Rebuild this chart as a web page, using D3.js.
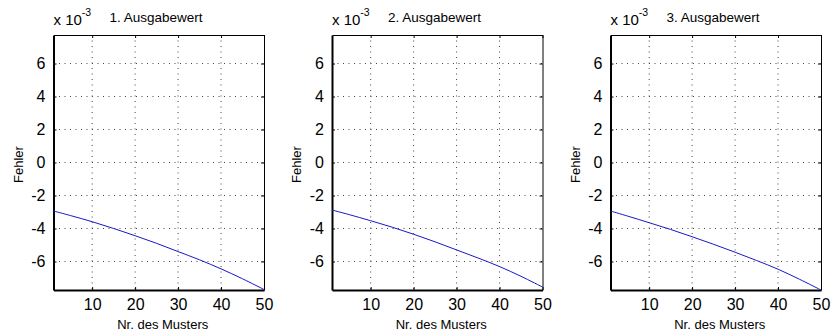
<!DOCTYPE html>
<html lang="de">
<head>
<meta charset="UTF-8">
<title>Fehler je Ausgabewert</title>
<script src="https://d3js.org/d3.v7.min.js"></script>
<style>
  body { margin: 0; background: #fff; }
  text { font-family: "Liberation Sans", Arial, sans-serif; fill: #000; }
</style>
</head>
<body>
<div id="chart"></div>
<script>
const muster = [1, 5, 10, 15, 20, 25, 30, 35, 40, 45, 50];
// Fehler der drei Ausgabewerte
const fehler1 = [-0.00294, -0.00322, -0.00359, -0.00400, -0.00444, -0.00490, -0.00540, -0.00590, -0.00645, -0.00705, -0.00770];
const fehler2 = [-0.00288, -0.00316, -0.00353, -0.00392, -0.00435, -0.00481, -0.00530, -0.00579, -0.00631, -0.00690, -0.00755];
const fehler3 = [-0.00294, -0.00325, -0.00365, -0.00406, -0.00450, -0.00496, -0.00544, -0.00594, -0.00647, -0.00708, -0.00773];
const titel = ["1. Ausgabewert", "2. Ausgabewert", "3. Ausgabewert"];
const xTicks = [10, 20, 30, 40, 50];
const yTicks = [-0.006, -0.004, -0.002, 0, 0.002, 0.004, 0.006];

const W = 833, H = 336;
const svg = d3.select("#chart").append("svg")
  .attr("width", W).attr("height", H);

const panelLeft = [53.5, 332, 610.5];
const axW = 210.5, yTop = 35, yBot = 290;

const reihen = [fehler1, fehler2, fehler3];

reihen.forEach((werte, k) => {
  const g = svg.append("g").attr("transform", `translate(${panelLeft[k]},0)`);

  const x = d3.scaleLinear().domain([1, 50]).range([0, axW]);
  const y = d3.scaleLinear().domain([-0.00773, 0.00773]).range([yBot, yTop]);

  // Gitterlinien (gepunktet)
  g.selectAll(".gx").data(xTicks.slice(0, -1)).join("line")
    .attr("x1", d => x(d)).attr("x2", d => x(d))
    .attr("y1", yTop).attr("y2", yBot)
    .attr("stroke", "#444").attr("stroke-width", 1)
    .attr("stroke-dasharray", "1,4.5");
  g.selectAll(".gy").data(yTicks).join("line")
    .attr("x1", 0).attr("x2", axW)
    .attr("y1", d => y(d)).attr("y2", d => y(d))
    .attr("stroke", "#444").attr("stroke-width", 1)
    .attr("stroke-dasharray", "1,4.5");

  // Achsen
  const xAx = g.append("g").attr("transform", `translate(0,${yBot})`)
    .call(d3.axisBottom(x).tickValues(xTicks).tickSizeInner(-3).tickSizeOuter(0).tickPadding(9));
  const yAx = g.append("g")
    .call(d3.axisLeft(y).tickValues(yTicks).tickSizeInner(-3).tickSizeOuter(0).tickPadding(8)
      .tickFormat(d => String(Math.round(d * 1000))));
  // Gegenseitige Achsen (oben/rechts)
  g.append("g").attr("transform", `translate(0,${yTop})`)
    .call(d3.axisTop(x).tickValues(xTicks).tickSizeInner(-3).tickSizeOuter(0).tickFormat(""));
  g.append("g").attr("transform", `translate(${axW},0)`)
    .call(d3.axisRight(y).tickValues(yTicks).tickSizeInner(-3).tickSizeOuter(0).tickFormat(""));

  svg.selectAll(".domain").attr("stroke", "#000");
  g.selectAll(".tick line").attr("stroke", "#000");
  g.selectAll(".tick text").style("font-size", "16px")
    .style("font-family", "'Liberation Sans', Arial, sans-serif");
  xAx.select(".domain").attr("stroke-width", 2);
  yAx.select(".domain").attr("stroke-width", 2);

  // Linie
  const pts = muster.map((m, i) => [m, werte[i]]);
  g.append("path").datum(pts)
    .attr("fill", "none").attr("stroke", "#1818c8").attr("stroke-width", 1)
    .attr("d", d3.line().x(d => x(d[0])).y(d => y(d[1])).curve(d3.curveCatmullRom));

  // Exponent
  const ex = g.append("text").attr("x", 0).attr("y", 25).style("font-size", "15px");
  ex.append("tspan").text("x 10");
  ex.append("tspan").attr("dy", -9).style("font-size", "10.5px").text("-3");

  // Titel
  g.append("text").attr("x", 56).attr("y", 22).style("font-size", "13.5px").text(titel[k]);

  // Achsenbeschriftungen
  g.append("text").attr("x", axW / 2 + 4).attr("y", 329)
    .attr("text-anchor", "middle").style("font-size", "13px").text("Nr. des Musters");
  g.append("text")
    .attr("transform", `translate(-31,${(yTop + yBot) / 2 + 2}) rotate(-90)`)
    .attr("text-anchor", "middle").style("font-size", "13px").text("Fehler");
});
</script>
</body>
</html>
